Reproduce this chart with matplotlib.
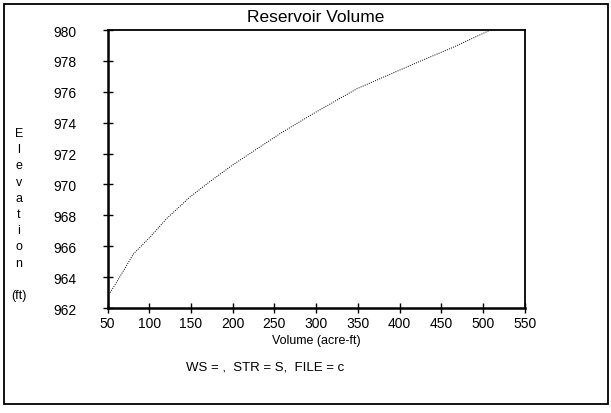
import matplotlib
matplotlib.use("Agg")
import matplotlib.pyplot as plt
from matplotlib.patches import Rectangle

# reservoir storage curve
volume = [53, 60, 70, 81, 101, 121, 149, 173, 201, 229, 257, 297, 349, 417, 465, 507]
elevation = [963.0, 963.6, 964.5, 965.5, 966.6, 967.8, 969.2, 970.2, 971.3,
             972.3, 973.3, 974.6, 976.2, 977.8, 978.9, 979.95]
x_ticks = [50, 100, 150, 200, 250, 300, 350, 400, 450, 500, 550]
y_ticks = [962, 964, 966, 968, 970, 972, 974, 976, 978, 980]
ylabel_letters = list("Elevation")

plt.rcParams['font.family'] = ['Liberation Sans', 'DejaVu Sans']

fig = plt.figure(figsize=(6.11, 4.14), dpi=100)
ax = fig.add_axes([0.1761, 0.2536, 0.6825, 0.6715])

ax.plot(volume, elevation, color='black', linewidth=0.7, linestyle=(0, (1, 1.3)))

ax.set_xlim(50, 550)
ax.set_ylim(962, 980)
ax.set_xticks(x_ticks)
ax.set_yticks(y_ticks)
ax.tick_params(direction='inout', length=7, width=1, labelsize=10)
ax.tick_params(axis='y', pad=19)
ax.tick_params(axis='x', pad=2.5)
for side in ['left', 'bottom']:
    ax.spines[side].set_linewidth(1.8)
for side in ['top', 'right']:
    ax.spines[side].set_linewidth(1.3)

fig.text(0.517, 0.957, 'Reservoir Volume', ha='center', va='center', fontsize=12.5)
fig.text(0.517, 1 - 341 / 414, 'Volume (acre-ft)', ha='center', va='center', fontsize=9)

# stacked y label
for i, ch in enumerate(ylabel_letters):
    fig.text(19 / 611, 1 - (134 + i * 16.2) / 414, ch, ha='center', va='center', fontsize=9)
fig.text(19 / 611, 1 - 296 / 414, '(ft)', ha='center', va='center', fontsize=9)

fig.text(186 / 611, 1 - 368 / 414, 'WS = ,  STR = S,  FILE = c', ha='left', va='center', fontsize=9.5)

# outer frame
fig.patches.append(Rectangle((4 / 611, 1 - 405 / 414), 604 / 611, 400 / 414,
                             transform=fig.transFigure, fill=False,
                             edgecolor='black', linewidth=1.3))

fig.savefig('out.png', dpi=100)
